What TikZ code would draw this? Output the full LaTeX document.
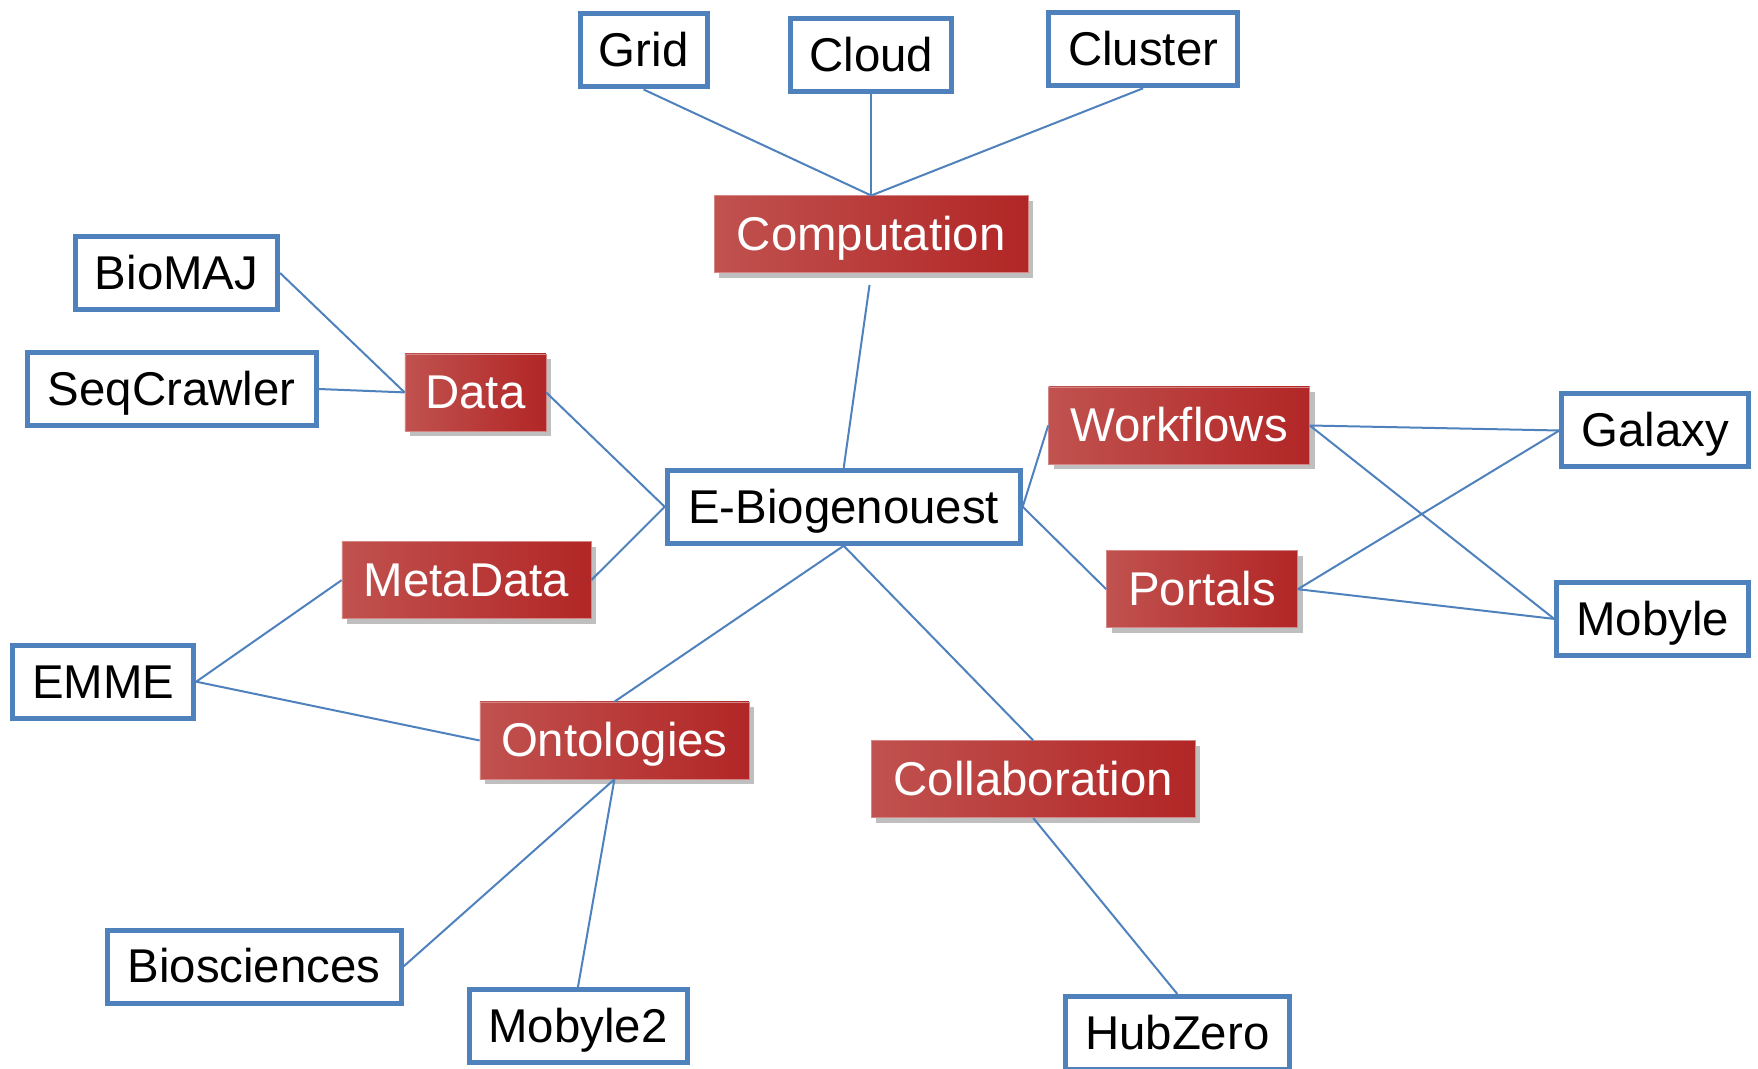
\documentclass[tikz,border=0pt]{standalone}
\usepackage{fontspec}
\setmainfont{Liberation Sans}
\usetikzlibrary{shadows}
\definecolor{boxblue}{RGB}{79,129,189}
\definecolor{redleft}{RGB}{192,82,79}
\definecolor{redmid}{RGB}{201,50,50}
\definecolor{redright}{RGB}{178,38,38}

\begin{document}
\begin{tikzpicture}[x=0.5pt, y=-0.5pt]
  \tikzstyle{line} = [draw, boxblue, line width = 1pt]
  \tikzstyle{bluebox} = [draw=boxblue, line width=2.5pt, fill=white, inner sep=0pt,
    minimum height=36.5pt, text height=21.4pt, text depth=5pt,
    font=\fontsize{23.7}{28}\selectfont]
  \tikzstyle{redbox} = [left color=redleft, middle color=redmid, right color=redright,
    draw=redleft!70!white, line width=0.3pt, text=white, inner sep=0pt, minimum height=38.5pt,
    text height=21.4pt, text depth=5pt,
    drop shadow={shadow xshift=2.5pt, shadow yshift=-2.5pt, opacity=0.5},
    font=\fontsize{23.7}{28}\selectfont]

  \useasboundingbox (0,0) rectangle (1758,1069);

  \node[bluebox, minimum width=63.5pt] (grid) at (643.6,50.5) {Grid};
  \node[bluebox, minimum width=80.5pt] (cloud) at (871.2,55.5) {Cloud};
  \node[bluebox, minimum width=94.5pt] (cluster) at (1143.1,49.3) {Cluster};
  \node[bluebox, minimum width=101pt] (biomaj) at (176.6,273) {BioMAJ};
  \node[bluebox, minimum width=144.5pt] (seqcrawler) at (171.5,389) {SeqCrawler};
  \node[bluebox, minimum width=176.5pt] (ebio) at (843.7,506.8) {E-Biogenouest};
  \node[bluebox, minimum width=93.5pt] (galaxy) at (1655.4,430.5) {Galaxy};
  \node[bluebox, minimum width=96pt] (mobyle) at (1652.7,618.9) {Mobyle};
  \node[bluebox, minimum width=90.5pt] (emme) at (103.2,681.7) {EMME};
  \node[bluebox, minimum width=147pt] (biosciences) at (254,966.5) {Biosciences};
  \node[bluebox, minimum width=109pt] (mobyletwo) at (578,1025.9) {Mobyle2};
  \node[bluebox, minimum width=112pt] (hubzero) at (1177.3,1033) {HubZero};

  \node[redbox, minimum width=157pt] (computation) at (871.2,234.3) {Computation};
  \node[redbox, minimum width=70.5pt] (data) at (475.4,392.4) {Data};
  \node[redbox, minimum width=130.5pt] (workflows) at (1179,425.5) {Workflows};
  \node[redbox, minimum width=124.5pt] (metadata) at (466.4,580.2) {MetaData};
  \node[redbox, minimum width=95.5pt] (portals) at (1202,589.2) {Portals};
  \node[redbox, minimum width=134.5pt] (ontologies) at (614.4,740.5) {Ontologies};
  \node[redbox, minimum width=162pt] (collaboration) at (1033.2,779.2) {Collaboration};

  \path [line] (grid.south) -- (computation.north);
  \path [line] (cloud.south) -- (computation.north);
  \path [line] (cluster.south) -- (computation.north);
  \path [line, shorten <=6pt] (computation.south) -- (ebio.north);
  \path [line] (biomaj.east) -- (data.west);
  \path [line] (seqcrawler.east) -- (data.west);
  \path [line] (data.east) -- (ebio.west);
  \path [line] (metadata.east) -- (ebio.west);
  \path [line] (emme.east) -- (metadata.west);
  \path [line] (emme.east) -- (ontologies.west);
  \path [line] (ontologies.north) -- (ebio.south);
  \path [line] (ebio.south) -- (collaboration.north);
  \path [line] (ontologies.south) -- (biosciences.east);
  \path [line] (ontologies.south) -- (mobyletwo.north);
  \path [line] (collaboration.south) -- (hubzero.north);
  \path [line] (ebio.east) -- (workflows.west);
  \path [line] (ebio.east) -- (portals.west);
  \path [line] (workflows.east) -- (galaxy.west);
  \path [line] (workflows.east) -- (mobyle.west);
  \path [line] (portals.east) -- (galaxy.west);
  \path [line] (portals.east) -- (mobyle.west);

\end{tikzpicture}
\end{document}
